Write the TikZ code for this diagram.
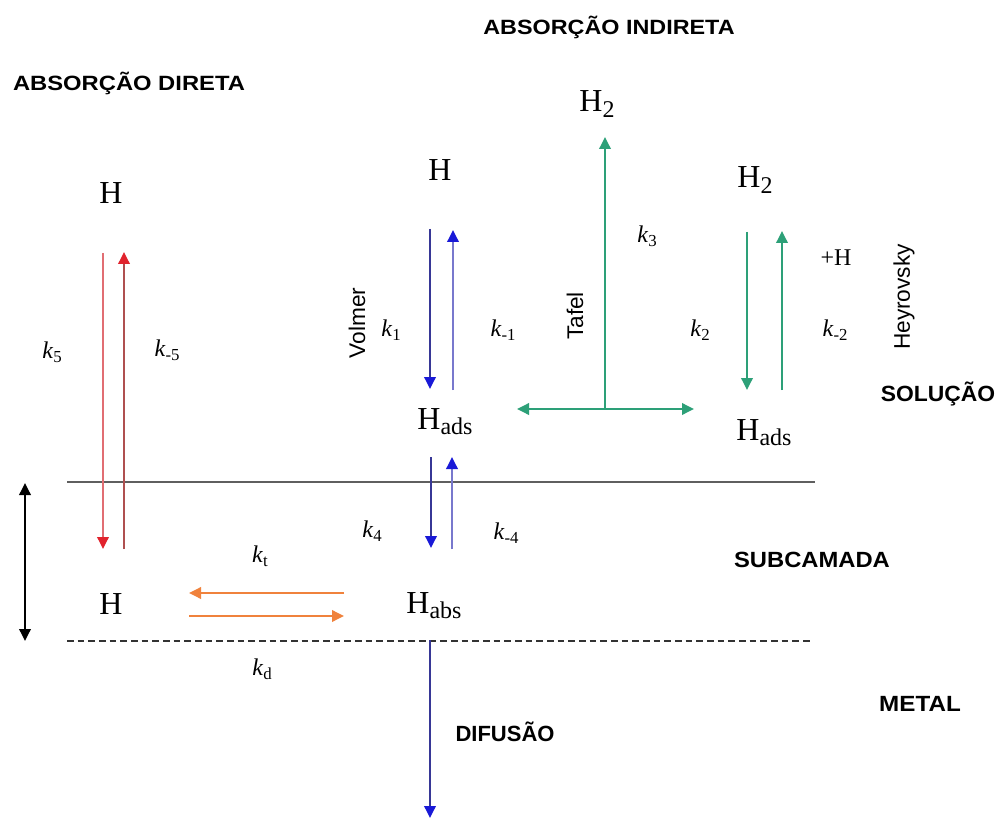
\documentclass[tikz,border=0pt]{standalone}
\usepackage{fontspec}
\usepackage{graphicx}
\setmainfont{Liberation Serif}
\setsansfont{Liberation Sans}
\usetikzlibrary{arrows.meta}
\definecolor{cred}{RGB}{225,35,45}
\definecolor{credl}{RGB}{225,110,115}
\definecolor{credd}{RGB}{175,80,80}
\definecolor{cblue}{RGB}{25,25,215}
\definecolor{cnavy}{RGB}{55,55,150}
\definecolor{cviolet}{RGB}{120,120,205}
\definecolor{cgreen}{RGB}{45,160,120}
\definecolor{corange}{RGB}{240,130,60}
\definecolor{cgray}{RGB}{95,95,95}
\newcommand\sbx[1]{\raisebox{-0.35ex}{\scalebox{0.75}{#1}}}
\newcommand\kk[1]{\textit{k}\raisebox{-0.4ex}{\scalebox{0.7}{#1}}}
\begin{document}
\begin{tikzpicture}[x=0.75pt,y=-0.75pt,
  species/.style={inner sep=0pt,font=\fontsize{24}{28}\selectfont},
  rate/.style={inner sep=0pt,font=\fontsize{18}{21}\selectfont},
  region/.style={inner sep=0pt,font=\sffamily\bfseries\fontsize{16.5}{20}\selectfont},
  heading/.style={inner sep=0pt,font=\sffamily\bfseries\fontsize{15.5}{19}\selectfont},
  mech/.style={inner sep=0pt,rotate=90,font=\sffamily\fontsize{17}{20}\selectfont},
  flow/.style={line width=1.8pt,-{Triangle[length=9pt,width=8.5pt]}},
  bluedown/.style={flow,cnavy,-{Triangle[length=9pt,width=8.5pt,color=cblue]}},
  blueup/.style={flow,cviolet,-{Triangle[length=9pt,width=8.5pt,color=cblue]}},
  reddown/.style={flow,credl,-{Triangle[length=9pt,width=8.5pt,color=cred]}},
  redup/.style={flow,credd,-{Triangle[length=9pt,width=8.5pt,color=cred]}},
  greenflow/.style={flow,cgreen},
  orangeflow/.style={flow,corange},
]
\useasboundingbox (0,0) rectangle (997,820);
\fill[white] (0,0) rectangle (997,820);

% headings
\node[heading] (hind) at (609,27) {\scalebox{1.13}[1]{ABSORÇÃO INDIRETA}};
\node[heading] (hdir) at (129,83) {\scalebox{1.15}[1]{ABSORÇÃO DIRETA}};

% region labels
\node[region] (sol) at (938,394) {\scalebox{1.04}[1]{SOLUÇÃO}};
\node[region] (sub) at (812,560) {\scalebox{1.08}[1]{SUBCAMADA}};
\node[region] (met) at (920,704) {\scalebox{1.1}[1]{METAL}};
\node[region] (dif) at (505,732) {DIFUSÃO};

% species
\node[species] (Hd) at (111,193) {H};
\node[species] (Hv) at (440,170) {H};
\node[species] (H2t) at (597,104) {H\sbx{2}};
\node[species] (H2r) at (755,180) {H\sbx{2}};
\node[species] (Hads) at (445,422) {H\sbx{ads}};
\node[species] (Hadsr) at (764,433) {H\sbx{ads}};
\node[species] (Habs) at (434,606) {H\sbx{abs}};
\node[species] (Hsub) at (111,604) {H};

% rate constants
\node[rate] (k5) at (52,352) {\kk{5}};
\node[rate] (km5) at (167,350) {\kk{-5}};
\node[rate] (k1) at (391,330) {\kk{1}};
\node[rate] (km1) at (503,330) {\kk{-1}};
\node[rate] (k3) at (647,236) {\kk{3}};
\node[rate] (k2) at (700,330) {\kk{2}};
\node[rate] (km2) at (835,330) {\kk{-2}};
\node[rate] (pH) at (836,258) {+H};
\node[rate] (k4) at (372,531) {\kk{4}};
\node[rate] (km4) at (506,533) {\kk{-4}};
\node[rate] (kt) at (260,556) {\kk{t}};
\node[rate] (kd) at (262,669) {\kk{d}};

% mechanism names
\node[mech] (volmer) at (357,323) {Volmer};
\node[mech] (tafel) at (575,316) {Tafel};
\node[mech] (heyr) at (904,297) {Heyrovsky};

% layer lines
\coordinate (solL) at (67,482);
\coordinate (solR) at (815,482);
\coordinate (dasL) at (67,641);
\coordinate (dasR) at (813,641);
\draw[cgray,line width=1.4pt] (solL) -- (solR);
\draw[black!80,line width=1.4pt,dash pattern=on 5pt off 3pt] (dasL) -- (dasR);

% thickness arrow
\coordinate (thT) at (25,483);
\coordinate (thB) at (25,641);
\draw[black,line width=1.8pt,{Triangle[length=9pt,width=8.5pt]}-{Triangle[length=9pt,width=8.5pt]}] (thT) -- (thB);

% direct absorption (red)
\coordinate (r1a) at (103,253);
\coordinate (r1b) at (103,549);
\coordinate (r2a) at (124,549);
\coordinate (r2b) at (124,252);
\draw[reddown] (r1a) -- (r1b);
\draw[redup] (r2a) -- (r2b);

% Volmer (blue)
\coordinate (v1a) at (430,229);
\coordinate (v1b) at (430,389);
\coordinate (v2a) at (453,390);
\coordinate (v2b) at (453,230);
\draw[bluedown] (v1a) -- (v1b);
\draw[blueup] (v2a) -- (v2b);

% absorption step (blue)
\coordinate (a1a) at (431,457);
\coordinate (a1b) at (431,548);
\coordinate (a2a) at (452,549);
\coordinate (a2b) at (452,457);
\draw[bluedown] (a1a) -- (a1b);
\draw[blueup] (a2a) -- (a2b);

% diffusion
\coordinate (difS) at (430,640);
\coordinate (difE) at (430,818);
\draw[bluedown] (difS) -- (difE);

% Tafel (green)
\coordinate (tafC) at (605,409);
\coordinate (tafL) at (517,409);
\coordinate (tafR) at (694,409);
\coordinate (tafT) at (605,137);
\draw[greenflow] (tafC) -- (tafT);
\draw[greenflow] (tafC) -- (tafL);
\draw[greenflow] (tafC) -- (tafR);

% Heyrovsky (green)
\coordinate (y1a) at (747,232);
\coordinate (y1b) at (747,390);
\coordinate (y2a) at (782,390);
\coordinate (y2b) at (782,231);
\draw[greenflow] (y1a) -- (y1b);
\draw[greenflow] (y2a) -- (y2b);

% transfer (orange)
\coordinate (o1a) at (344,593);
\coordinate (o1b) at (189,593);
\coordinate (o2a) at (189,616);
\coordinate (o2b) at (344,616);
\draw[orangeflow] (o1a) -- (o1b);
\draw[orangeflow] (o2a) -- (o2b);
\end{tikzpicture}
\end{document}
